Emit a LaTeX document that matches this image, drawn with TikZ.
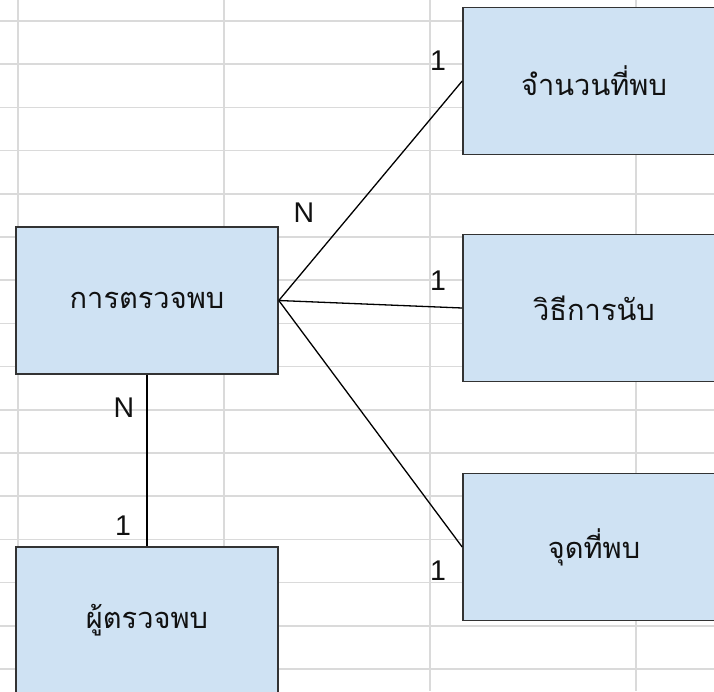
\documentclass[tikz,border=0pt]{standalone}
\usepackage{fontspec}
\setmainfont{Liberation Sans}
\newfontfamily\thaifont[Script=Thai]{Loma}
\definecolor{gridc}{HTML}{DADADA}
\definecolor{boxfill}{HTML}{CFE2F3}
\definecolor{boxline}{HTML}{333333}
\definecolor{txt}{HTML}{111111}
\begin{document}
\begin{tikzpicture}[x=1pt,y=-1pt,
  entity/.style={draw=boxline,line width=1.6pt,fill=boxfill,rectangle,minimum width=262pt,minimum height=147pt,inner sep=0pt,font=\thaifont\fontsize{29}{33}\selectfont,text=txt},
  card/.style={font=\fontsize{28.5}{32}\selectfont,text=txt,inner sep=0pt},
  link/.style={draw=black,line width=1.3pt},
  gridline/.style={draw=gridc,line width=1.5pt}]
\useasboundingbox (0,0) rectangle (714,691);
\clip (0,0) rectangle (714,691);
\fill[white] (0,0) rectangle (714,691);
% grid
\foreach \gx in {18,224,430,636} \draw[gridline] (\gx,0) -- (\gx,691);
\foreach \i in {0,...,15} \draw[gridline] (0,21+\i*43.2) -- (714,21+\i*43.2);
% entities
\node[entity] (a) at (147,300.5) {การตรวจพบ};
\node[entity] (b) at (594,81) {จำนวนที่พบ};
\node[entity] (c) at (594,308) {วิธีการนับ};
\node[entity] (d) at (594,547) {จุดที่พบ};
\node[entity] (e) at (147,620.5) {ผู้ตรวจพบ};
% links
\draw[link] (a.east) -- (b.west);
\draw[link] (a.east) -- (c.west);
\draw[link] (a.east) -- (d.west);
\draw[link] (a.south) -- (e.north);
% cardinalities
\node[card] (n1) at (304,213) {N};
\node[card] (o1) at (438,61) {1};
\node[card] (o2) at (438,281) {1};
\node[card] (o3) at (438,571) {1};
\node[card] (n2) at (124,408) {N};
\node[card] (o4) at (123,526) {1};
\end{tikzpicture}
\end{document}
